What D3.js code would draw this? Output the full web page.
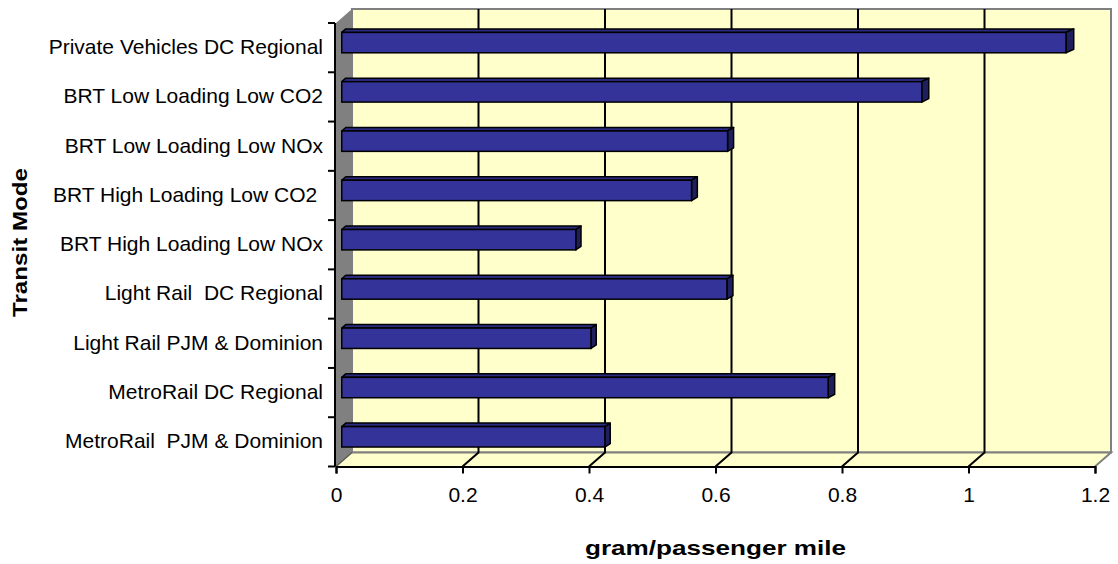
<!DOCTYPE html>
<html>
<head>
<meta charset="utf-8">
<script src="https://cdn.jsdelivr.net/npm/d3@7"></script>
<style>
  body { margin: 0; background: #fff; }
  text { font-family: "Liberation Sans", Arial, sans-serif; fill: #000; }
</style>
</head>
<body>
<svg id="chart" width="1118" height="564"></svg>
<script>
// Emissions per passenger mile by transit mode
const categories = [
  "Private Vehicles DC Regional",
  "BRT Low Loading Low CO2",
  "BRT Low Loading Low NOx",
  "BRT High Loading Low CO2 ",
  "BRT High Loading Low NOx",
  "Light Rail  DC Regional",
  "Light Rail PJM & Dominion",
  "MetroRail DC Regional",
  "MetroRail  PJM & Dominion"
];
const values = [1.145, 0.917, 0.61, 0.553, 0.37, 0.609, 0.394, 0.769, 0.416];
const tickValues = [0, 0.2, 0.4, 0.6, 0.8, 1, 1.2];
const tickLabels = ["0", "0.2", "0.4", "0.6", "0.8", "1", "1.2"];
const xTitle = "gram/passenger mile";
const yTitle = "Transit Mode";

const svg = d3.select("#chart");

// front plane of the 3-D box
const pLeft = 336, pRight = 1095, pTop = 23, pBottom = 466.5;
// depth vector of the box (front -> back wall)
const DX = 16, DY = -14;

const x = d3.scaleLinear().domain([0, 1.2]).range([pLeft, pRight]);
const y = d3.scaleBand().domain(categories).range([pTop, pBottom]).padding(0);

const wallFill = "#FFFFCC", wallEdge = "#808080";

// back wall
svg.append("rect")
  .attr("x", pLeft + DX).attr("y", pTop + DY)
  .attr("width", pRight - pLeft).attr("height", pBottom - pTop)
  .attr("fill", wallFill).attr("stroke", wallEdge).attr("stroke-width", 2);

// floor
svg.append("path")
  .attr("d", `M${pLeft},${pBottom} L${pLeft + DX},${pBottom + DY} L${pRight + DX},${pBottom + DY} L${pRight},${pBottom} Z`)
  .attr("fill", wallFill).attr("stroke", "none");
svg.append("path")
  .attr("d", `M${pLeft + DX},${pBottom + DY} L${pRight + DX},${pBottom + DY} L${pRight},${pBottom}`)
  .attr("fill", "none").attr("stroke", wallEdge).attr("stroke-width", 2);

// side wall
svg.append("path")
  .attr("d", `M${pLeft},${pTop} L${pLeft + DX},${pTop + DY} L${pLeft + DX},${pBottom + DY} L${pLeft},${pBottom} Z`)
  .attr("fill", "#808080").attr("stroke", "none");
svg.append("path")
  .attr("d", `M${pLeft},${pBottom} L${pLeft + DX},${pBottom + DY}`)
  .attr("stroke", "#5a5a5a").attr("stroke-width", 1.5);

// gridlines on back wall and floor
const inner = tickValues.filter(v => v > 0 && v < 1.2);
svg.append("g").selectAll("path").data(inner).join("path")
  .attr("d", v => `M${x(v) + DX},${pTop + DY} L${x(v) + DX},${pBottom + DY} L${x(v)},${pBottom}`)
  .attr("fill", "none").attr("stroke", "#000").attr("stroke-width", 2);

// 3-D bars
const fFront = 0.36, fDepth = 0.25;
const barH = 20.4;
const bars = svg.append("g").selectAll("g").data(categories.map((c, i) => ({ c, v: values[i] })))
  .join("g");

bars.each(function (d) {
  const g = d3.select(this);
  const x0 = x(0) + DX * fFront;
  const x1 = x(d.v) + DX * fFront;
  const yc = y(d.c) + y.bandwidth() / 2 + DY * fFront;
  const y0 = yc - barH / 2, y1 = yc + barH / 2;
  const dyb = DY * fDepth;
  const dxl = DX * fDepth;
  const dxr = dxl + (x1 - x0) * 0.0052;
  // top face
  g.append("path")
    .attr("d", `M${x0},${y0} L${x0 + dxl},${y0 + dyb} L${x1 + dxr},${y0 + dyb} L${x1},${y0} Z`)
    .attr("fill", "#2B2B80").attr("stroke", "#000").attr("stroke-width", 1.5).attr("stroke-linejoin", "round");
  // end face
  g.append("path")
    .attr("d", `M${x1},${y0} L${x1 + dxr},${y0 + dyb} L${x1 + dxr},${y1 + dyb} L${x1},${y1} Z`)
    .attr("fill", "#1F1F5E").attr("stroke", "#000").attr("stroke-width", 1.5).attr("stroke-linejoin", "round");
  // front face
  g.append("rect")
    .attr("x", x0).attr("y", y0).attr("width", x1 - x0).attr("height", barH)
    .attr("fill", "#333399").attr("stroke", "#000").attr("stroke-width", 1.5);
});

// value axis
const xAxis = d3.axisBottom(x).tickValues(tickValues)
  .tickFormat((d, i) => tickLabels[i]).tickSize(7).tickPadding(14);
const gx = svg.append("g").attr("transform", `translate(0,${pBottom})`).call(xAxis);
gx.select(".domain").attr("stroke", "#000").attr("stroke-width", 2);
gx.selectAll(".tick line").attr("stroke", "#000").attr("stroke-width", 2);
gx.selectAll(".tick text").attr("font-size", 21).attr("font-family", "Liberation Sans, Arial, sans-serif");

// category axis
const yAxis = d3.axisLeft(y).tickSize(0).tickPadding(12);
const gy = svg.append("g").attr("transform", `translate(${pLeft - 1},0)`).call(yAxis);
gy.select(".domain").remove();
gy.selectAll(".tick text").attr("font-size", 21)
  .attr("font-family", "Liberation Sans, Arial, sans-serif")
  .attr("dy", "0.3em")
  .style("white-space", "pre");
gy.append("line").attr("x1", 0).attr("x2", 0).attr("y1", pTop).attr("y2", pBottom)
  .attr("stroke", "#000").attr("stroke-width", 2);
gy.selectAll(".edge").data(d3.range(categories.length + 1)).join("line")
  .attr("class", "edge")
  .attr("x1", -7).attr("x2", 0)
  .attr("y1", i => pTop + i * y.bandwidth()).attr("y2", i => pTop + i * y.bandwidth())
  .attr("stroke", "#000").attr("stroke-width", 2);

// axis titles
svg.append("text").attr("x", 715.5).attr("y", 555)
  .attr("text-anchor", "middle").attr("font-size", 21).attr("font-weight", "bold")
  .attr("textLength", 261).attr("lengthAdjust", "spacingAndGlyphs")
  .text(xTitle);
svg.append("text")
  .attr("transform", "translate(27,242.5) rotate(-90)")
  .attr("text-anchor", "middle").attr("font-size", 20).attr("font-weight", "bold")
  .attr("textLength", 149).attr("lengthAdjust", "spacingAndGlyphs")
  .text(yTitle);
</script>
</body>
</html>
